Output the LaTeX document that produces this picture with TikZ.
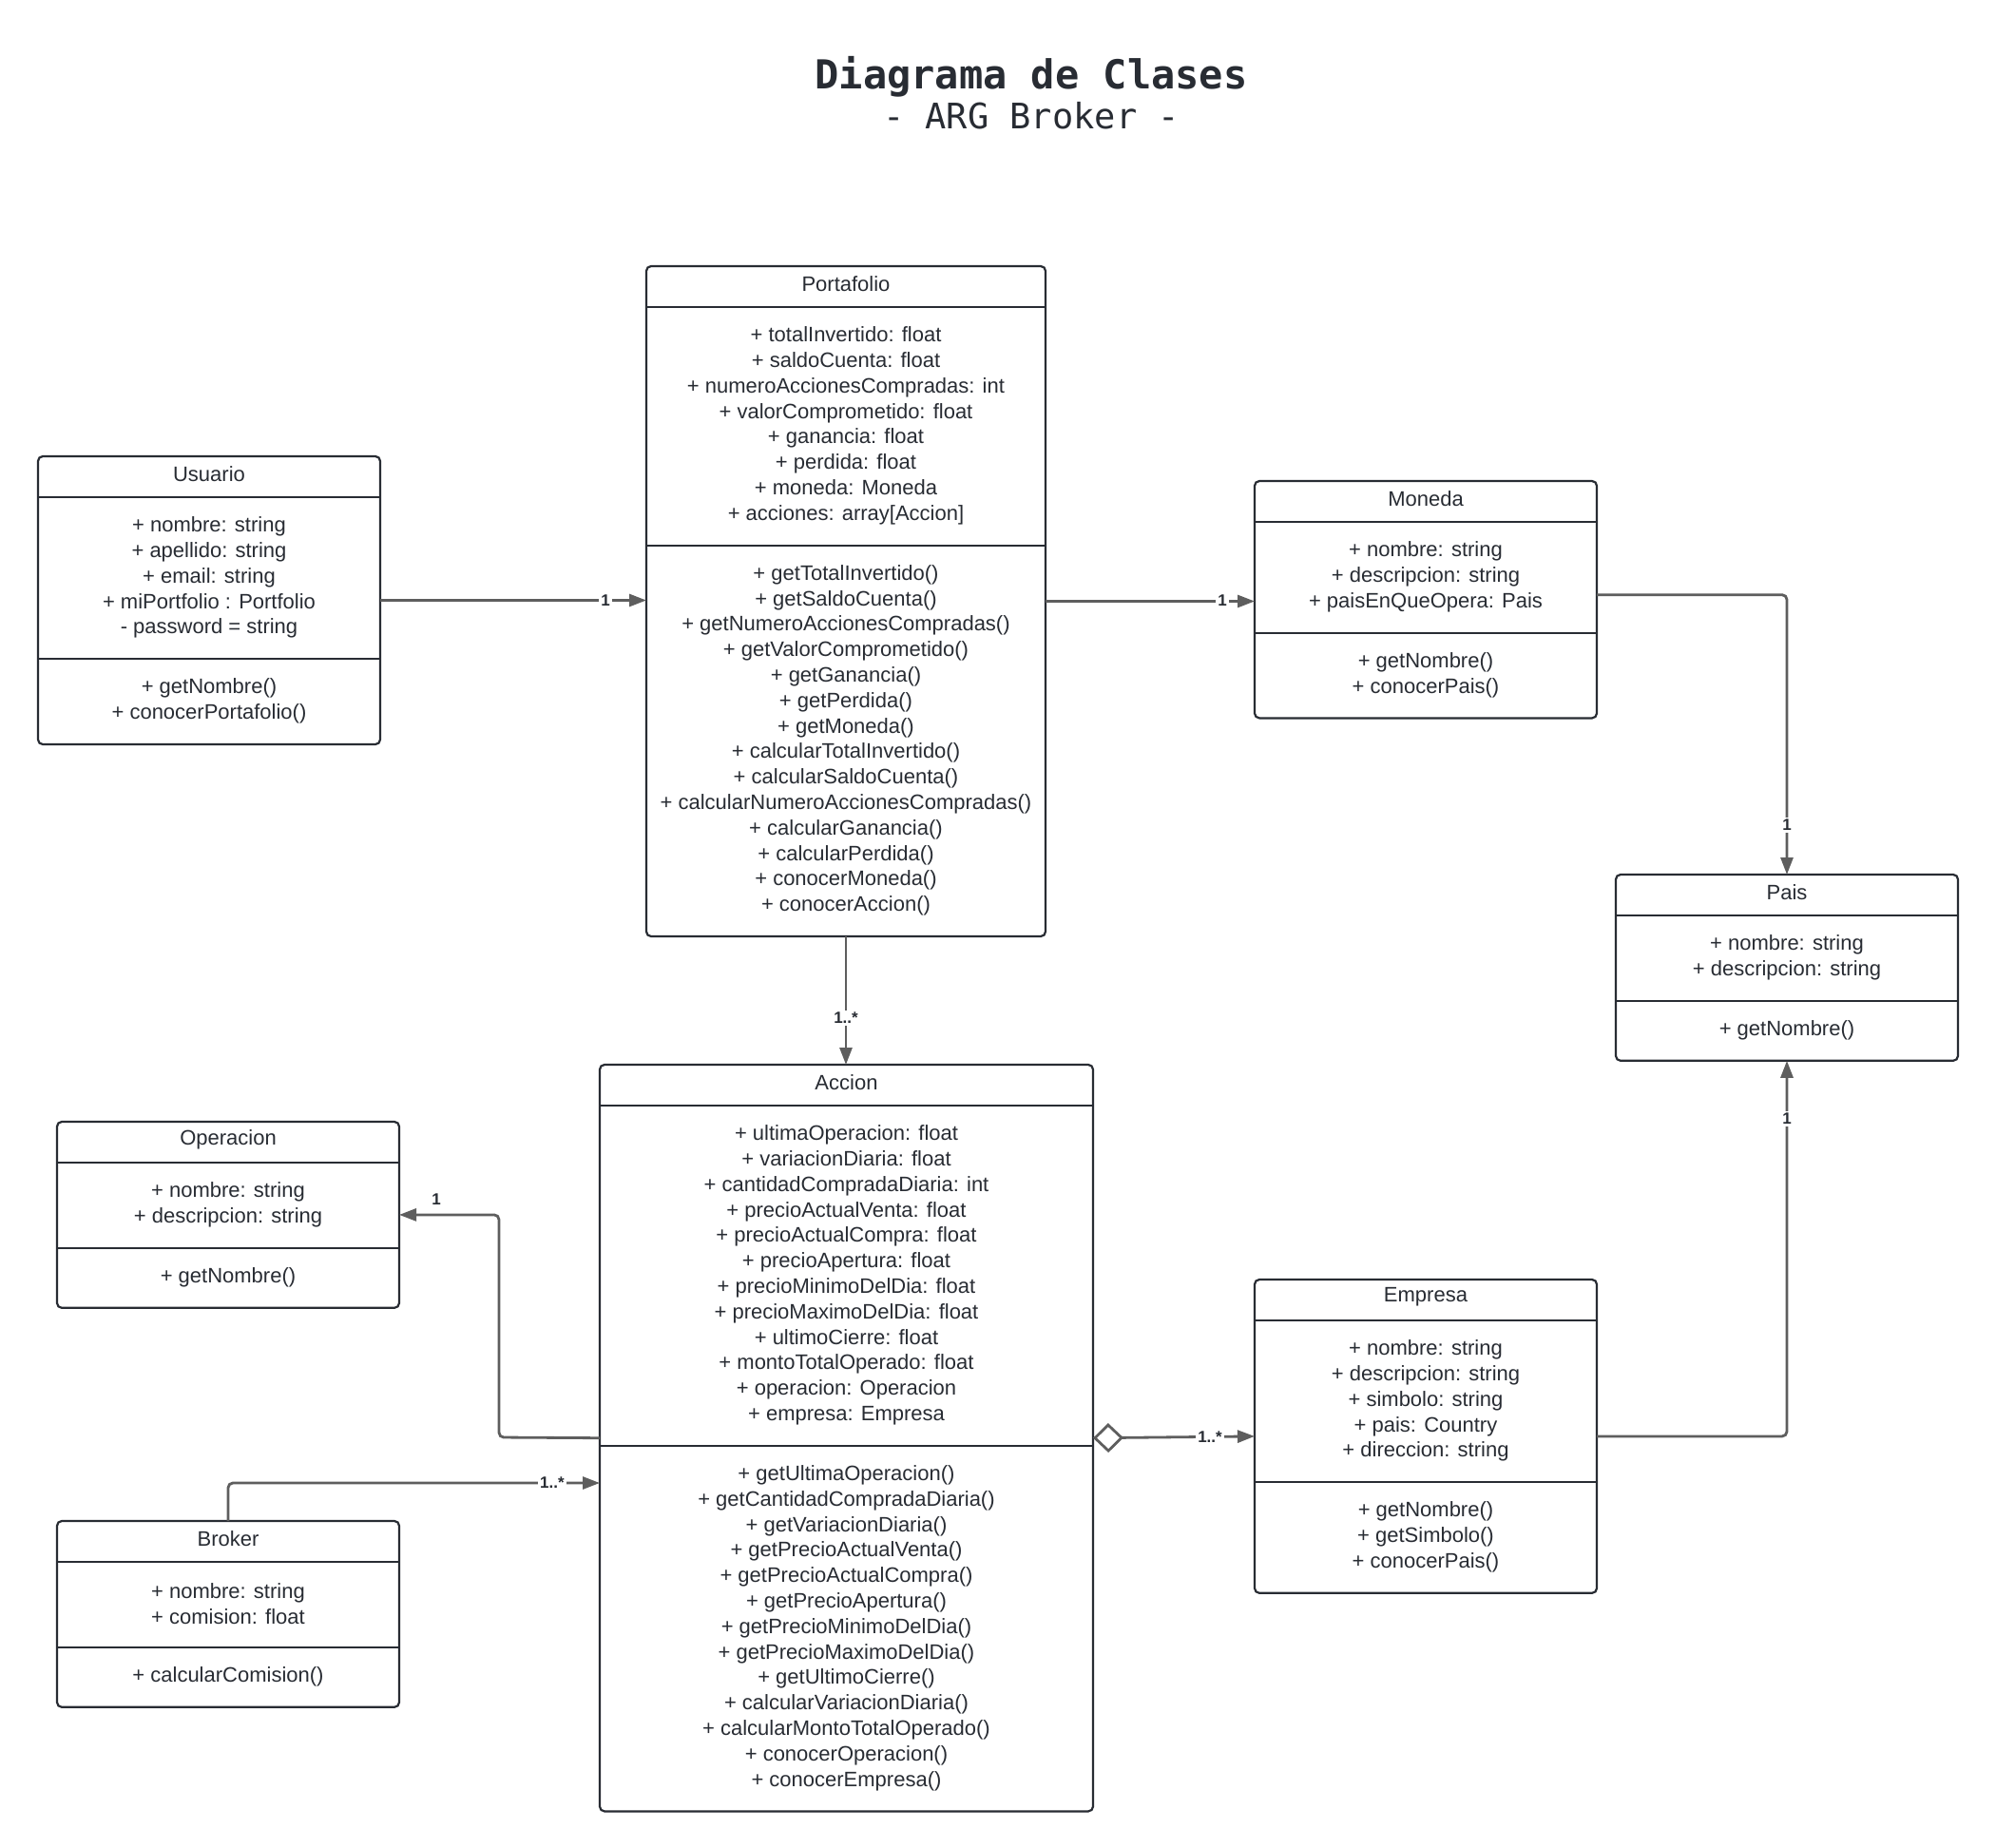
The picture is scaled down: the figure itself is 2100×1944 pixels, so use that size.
\documentclass[tikz,border=0pt]{standalone}
\usepackage{fontspec}
\setmainfont{Liberation Sans}
\newfontfamily\titlefont{DejaVu Sans Mono}
\usetikzlibrary{arrows.meta,calc}
\definecolor{ink}{HTML}{282C33}
\definecolor{conn}{HTML}{5E5E5E}
\tikzset{
 classbox/.style={draw=ink, line width=1.1pt, rounded corners=2.5pt, fill=white, inner sep=0pt, outer sep=0pt, anchor=north west},
 classline/.style={draw=ink, line width=1.1pt},
 classtext/.style={text=ink, font=\fontsize{11}{13.4}\selectfont, align=center, inner sep=0pt},
 assoc/.style={draw=conn, line width=1.4pt, rounded corners=2.5pt, -{Triangle[length=9pt,width=6.5pt]}},
 aggr/.style={draw=conn, line width=1.4pt, {Diamond[open,fill=white,length=16pt,width=15.5pt]}-{Triangle[length=9pt,width=6.5pt]}},
 mult/.style={text=ink, font=\fontsize{8.5}{10}\selectfont\bfseries, fill=white, inner sep=1pt},
}
% #1 name, #2 left, #3 top, #4 width, #5 title, #6 n attrs, #7 attrs, #8 n methods, #9 methods
\newcommand{\umlclass}[9]{%
  \pgfmathsetmacro\ucHA{63+(#6-1)*26.8}%
  \pgfmathsetmacro\ucHM{63+(#8-1)*26.8}%
  \pgfmathsetmacro\ucH{43+\ucHA+\ucHM}%
  \pgfmathsetmacro\ucCX{#2+#4/2}%
  \pgfmathsetmacro\ucDA{#3+43}%
  \pgfmathsetmacro\ucDM{#3+43+\ucHA}%
  \pgfmathsetmacro\ucYA{\ucDA+31+(#6-1)*13.4}%
  \pgfmathsetmacro\ucYM{\ucDM+31+(#8-1)*13.4}%
  \node[classbox, minimum width=#4*0.5pt, minimum height=\ucH*0.5pt] (#1) at (#2,#3) {};
  \draw[classline] (#2,\ucDA) -- ++(#4,0);
  \draw[classline] (#2,\ucDM) -- ++(#4,0);
  \node[classtext] (#1-title) at (\ucCX,#3+18.5) {#5};
  \node[classtext] (#1-attrs) at (\ucCX,\ucYA) {#7};
  \node[classtext] (#1-methods) at (\ucCX,\ucYM) {#9};
}
\begin{document}
\begin{tikzpicture}[x=0.5pt,y=-0.5pt]
\useasboundingbox[fill=white] (0,0) rectangle (2100,1944);

\node[font=\titlefont\fontsize{21}{24}\selectfont\bfseries, text=ink] (title) at (1085,81) {Diagrama de Clases};
\node[font=\titlefont\fontsize{18.5}{22}\selectfont, text=ink] (subtitle) at (1085,122) {- ARG Broker -};

\umlclass{usuario}{40}{480}{360}{Usuario}{5}{+ nombre: string\\+ apellido: string\\+ email: string\\+ miPortfolio : Portfolio\\- password = string}{2}{+ getNombre()\\+ conocerPortafolio()}

\umlclass{portafolio}{680}{280}{420}{Portafolio}{8}{+ totalInvertido: float\\+ saldoCuenta: float\\+ numeroAccionesCompradas: int\\+ valorComprometido: float\\+ ganancia: float\\+ perdida: float\\+ moneda: Moneda\\+ acciones: array[Accion]}{14}{+ getTotalInvertido()\\+ getSaldoCuenta()\\+ getNumeroAccionesCompradas()\\+ getValorComprometido()\\+ getGanancia()\\+ getPerdida()\\+ getMoneda()\\+ calcularTotalInvertido()\\+ calcularSaldoCuenta()\\+ calcularNumeroAccionesCompradas()\\+ calcularGanancia()\\+ calcularPerdida()\\+ conocerMoneda()\\+ conocerAccion()}

\umlclass{moneda}{1320}{506}{360}{Moneda}{3}{+ nombre: string\\+ descripcion: string\\+ paisEnQueOpera: Pais}{2}{+ getNombre()\\+ conocerPais()}

\umlclass{pais}{1700}{920}{360}{Pais}{2}{+ nombre: string\\+ descripcion: string}{1}{+ getNombre()}

\umlclass{accion}{631}{1120}{519}{Accion}{12}{+ ultimaOperacion: float\\+ variacionDiaria: float\\+ cantidadCompradaDiaria: int\\+ precioActualVenta: float\\+ precioActualCompra: float\\+ precioApertura: float\\+ precioMinimoDelDia: float\\+ precioMaximoDelDia: float\\+ ultimoCierre: float\\+ montoTotalOperado: float\\+ operacion: Operacion\\+ empresa: Empresa}{13}{+ getUltimaOperacion()\\+ getCantidadCompradaDiaria()\\+ getVariacionDiaria()\\+ getPrecioActualVenta()\\+ getPrecioActualCompra()\\+ getPrecioApertura()\\+ getPrecioMinimoDelDia()\\+ getPrecioMaximoDelDia()\\+ getUltimoCierre()\\+ calcularVariacionDiaria()\\+ calcularMontoTotalOperado()\\+ conocerOperacion()\\+ conocerEmpresa()}

\umlclass{operacion}{60}{1180}{360}{Operacion}{2}{+ nombre: string\\+ descripcion: string}{1}{+ getNombre()}

\umlclass{broker}{60}{1600}{360}{Broker}{2}{+ nombre: string\\+ comision: float}{1}{+ calcularComision()}

\umlclass{empresa}{1320}{1346}{360}{Empresa}{5}{+ nombre: string\\+ descripcion: string\\+ simbolo: string\\+ pais: Country\\+ direccion: string}{3}{+ getNombre()\\+ getSimbolo()\\+ conocerPais()}

% connectors
\coordinate (opbend) at (525,1512);
\coordinate (brokerin) at (accion.west |- 0,1560);
\draw[assoc] (usuario.east) -- (usuario.east -| portafolio.west);
\draw[assoc] (portafolio.east) -- (portafolio.east -| moneda.west);
\draw[assoc] ([yshift=2.5pt]moneda.east) -| (pais.north);
\draw[assoc] (portafolio.south) -- (portafolio.south |- accion.north);
\draw[assoc] (accion.west) -- (opbend) |- (operacion.east);
\draw[assoc] (broker.north) |- (brokerin);
\draw[aggr] (accion.east) -- (empresa.west);
\draw[assoc] (empresa.east) -| (pais.south);

% multiplicities
\node[mult] (m1) at (637,632) {1};
\node[mult] (m2) at (1286,632) {1};
\node[mult] (m3) at (1880,868) {1};
\node[mult] (m4) at (890,1071) {1..*};
\node[mult, fill=none] (m5) at (459,1262) {1};
\node[mult] (m6) at (581,1560) {1..*};
\node[mult] (m7) at (1273,1512) {1..*};
\node[mult] (m8) at (1880,1177) {1};
\end{tikzpicture}
\end{document}
